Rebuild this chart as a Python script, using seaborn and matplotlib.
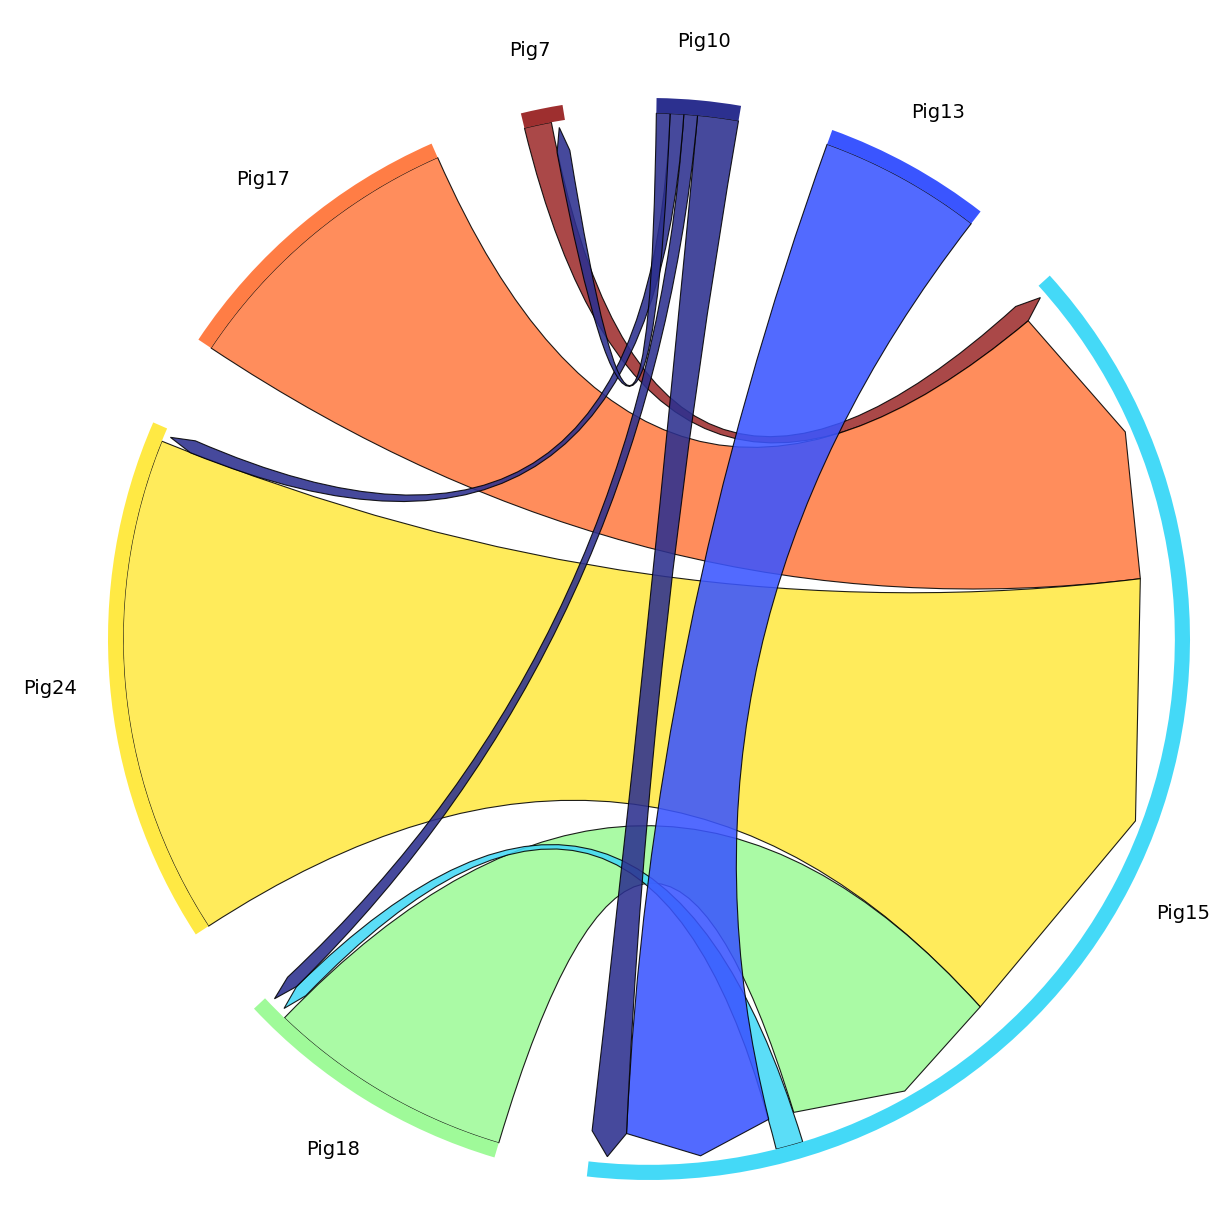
import numpy as np
import matplotlib
matplotlib.use("Agg")
import matplotlib.pyplot as plt
from matplotlib.path import Path
from matplotlib.patches import PathPatch, Wedge
import seaborn as sns

sns.set_theme(style="white")
plt.rcParams["font.family"] = ["DejaVu Sans"]

# nodes, listed clockwise starting at Pig15
node_names = ["Pig15", "Pig18", "Pig24", "Pig17", "Pig7", "Pig10", "Pig13"]
node_colors = ["#44d9f7", "#9ffa99", "#ffe944", "#ff7d45", "#9e2f2f", "#2c308f", "#3a55ff"]
start_angle = 42.2

# chords: source, target, width at source, width at target (degrees of arc)
chord_src = ["Pig7", "Pig17", "Pig24", "Pig18", "Pig15", "Pig13", "Pig10", "Pig10", "Pig10", "Pig10"]
chord_dst = ["Pig15", "Pig15", "Pig15", "Pig15", "Pig18", "Pig15", "Pig15", "Pig18", "Pig24", "Pig7"]
src_width = [3.0, 32.7, 55.2, 27.3, 3.0, 18.0, 4.5, 1.5, 1.5, 1.5]
dst_width = [2.2, 33.0, 55.0, 25.0, 1.5, 16.6, 4.0, 1.5, 1.5, 1.5]

# order of chord ends around each node (clockwise), by chord index
end_order = {
    "Pig15": [0, 1, 2, 3, 4, 5, 6],
    "Pig18": [3, 4, 7],
    "Pig24": [2, 8],
    "Pig17": [1],
    "Pig7": [0, 9],
    "Pig10": [9, 8, 7, 6],
    "Pig13": [5],
}

R_RING_IN, R_RING_OUT = 0.972, 1.0
R_SRC, R_ARROW, R_TIP = 0.972, 0.915, 0.96


def width_of(k, node):
    return src_width[k] if chord_src[k] == node else dst_width[k]


totals = {n: sum(width_of(k, n) for k in end_order[n]) for n in node_names}
gap = (360 - sum(totals.values())) / len(node_names)

node_span = {}
ends = {}
cur = start_angle
for n in node_names:
    node_span[n] = (cur, cur - totals[n])
    a = cur
    for k in end_order[n]:
        w = width_of(k, n)
        ends[(k, n)] = (a, a - w)
        a -= w
    cur -= totals[n] + gap


def pt(ang, r):
    t = np.radians(ang)
    return (r * np.cos(t), r * np.sin(t))


fig = plt.figure(figsize=(12.3, 12.26), dpi=100)
ax = fig.add_axes([0, 0, 1, 1])
scale = 541.0
ax.set_xlim(-649 / scale, (1230 - 649) / scale)
ax.set_ylim(-587 / scale, 639 / scale)
ax.axis("off")

color_of = dict(zip(node_names, node_colors))

for k in range(len(chord_src)):
    a_hi, a_lo = ends[(k, chord_src[k])]
    b_hi, b_lo = ends[(k, chord_dst[k])]
    verts, codes = [], []
    arc = np.linspace(a_hi, a_lo, 30)
    for i, ang in enumerate(arc):
        verts.append(pt(ang, R_SRC))
        codes.append(Path.MOVETO if i == 0 else Path.LINETO)
    verts += [(0, 0), pt(b_hi, R_ARROW)]
    codes += [Path.CURVE3, Path.CURVE3]
    verts += [pt((b_hi + b_lo) / 2, R_TIP), pt(b_lo, R_ARROW)]
    codes += [Path.LINETO, Path.LINETO]
    verts += [(0, 0), pt(a_hi, R_SRC)]
    codes += [Path.CURVE3, Path.CURVE3]
    verts.append(pt(a_hi, R_SRC))
    codes.append(Path.CLOSEPOLY)
    patch = PathPatch(Path(verts, codes), facecolor=color_of[chord_src[k]],
                      edgecolor="black", lw=0.8, alpha=0.88)
    ax.add_patch(patch)

for n in node_names:
    hi, lo = node_span[n]
    ax.add_patch(Wedge((0, 0), R_RING_OUT, lo, hi, width=R_RING_OUT - R_RING_IN,
                       facecolor=color_of[n], edgecolor="none"))
    mid = (hi + lo) / 2
    x, y = pt(mid, 1.11)
    ax.text(x, y, n, fontsize=14, ha="center", va="center", color="black")

fig.savefig("out.png", dpi=100)
